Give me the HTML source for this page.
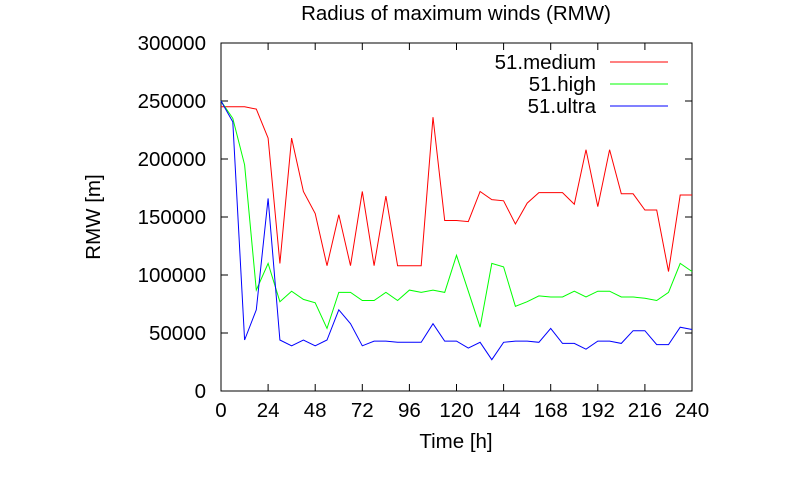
<!DOCTYPE html>
<html><head><meta charset="utf-8"><style>
html,body{margin:0;padding:0;background:#fff;}
svg{display:block;font-family:"Liberation Sans",sans-serif;}
</style></head><body>
<svg id="chart" width="793" height="500" viewBox="0 0 793 500" xmlns="http://www.w3.org/2000/svg">
<rect x="0" y="0" width="793" height="500" fill="#fff"/>
<text x="456" y="20" font-size="20.5" text-anchor="middle">Radius of maximum winds (RMW)</text>
<text x="100" y="217" font-size="20.5" text-anchor="middle" transform="rotate(-90 100 217)">RMW [m]</text>
<text x="456" y="448" font-size="20.5" text-anchor="middle">Time [h]</text>
<g id="axes"></g>
<g id="series"></g>
<g id="legend"></g>
</svg>
<script>
const times = [0,6,12,18,24,30,36,42,48,54,60,66,72,78,84,90,96,102,108,114,120,126,132,138,144,150,156,162,168,174,180,186,192,198,204,210,216,222,228,234,240];
const medium = [245000,245000,245000,243000,218000,110000,218000,172000,153000,108000,152000,108000,172000,108000,168000,108000,108000,108000,236000,147000,147000,146000,172000,165000,164000,144000,162000,171000,171000,171000,161000,208000,159000,208000,170000,170000,156000,156000,103000,169000,169000];
const high = [250000,235000,195000,87000,110000,77000,86000,79000,76000,54000,85000,85000,78000,78000,85000,78000,87000,85000,87000,85000,117000,86000,55000,110000,107000,73000,77000,82000,81000,81000,86000,81000,86000,86000,81000,81000,80000,78000,85000,110000,103000];
const ultra = [250000,232000,44000,70000,166000,44000,39000,44000,39000,44000,70000,58000,39000,43000,43000,42000,42000,42000,58000,43000,43000,37000,42000,27000,42000,43000,43000,42000,54000,41000,41000,36000,43000,43000,41000,52000,52000,40000,40000,55000,53000];
const xTicks = [0,24,48,72,96,120,144,168,192,216,240];
const yTicks = [0,50000,100000,150000,200000,250000,300000];
const seriesNames = ["51.medium","51.high","51.ultra"];

const L=221,R=692,T=43,B=391;
const NS="http://www.w3.org/2000/svg";
function xs(v){return L+(v-0)/(240-0)*(R-L);}
function ys(v){return B-(v-0)/(300000-0)*(B-T);}
function mk(tag,attrs,parent){const e=document.createElementNS(NS,tag);for(const k in attrs)e.setAttribute(k,attrs[k]);parent.appendChild(e);return e;}
const axes=document.getElementById('axes');
const frame=mk('rect',{x:L,y:T,width:R-L,height:B-T,fill:'none',stroke:'#000','stroke-width':1},axes);


xTicks.forEach(t=>{
  const x=xs(t);
  const g=mk('g',{},axes);
  
  
  mk('line',{x1:x,y1:B,x2:x,y2:B-7,stroke:'#000'},g);
  mk('line',{x1:x,y1:T,x2:x,y2:T+7,stroke:'#000'},g);
  const tx=mk('text',{x:x,y:B+26,'font-size':20.5,'text-anchor':'middle'},g);
  tx.textContent=t;
});
yTicks.forEach(t=>{
  const y=ys(t);
  const g=mk('g',{},axes);
  
  
  mk('line',{x1:L,y1:y,x2:L+7,y2:y,stroke:'#000'},g);
  mk('line',{x1:R,y1:y,x2:R-7,y2:y,stroke:'#000'},g);
  const tx=mk('text',{x:206,y:y+7,'font-size':20.5,'text-anchor':'end'},g);
  tx.textContent=t;
});
const colors=['#ff0000','#00ff00','#0000ff'];
const data=[medium,high,ultra];
const sg=document.getElementById('series');
data.forEach((arr,i)=>{
  const pts=arr.map((v,j)=>xs(times[j]).toFixed(1)+','+ys(v).toFixed(1)).join(' ');
  const pl=mk('polyline',{points:pts,fill:'none',stroke:colors[i],'stroke-width':1},sg);
  
  
});
const lg=document.getElementById('legend');
seriesNames.forEach((n,i)=>{
  const y=62+i*22;
  const g=mk('g',{},lg);
  
  
  const tx=mk('text',{x:596,y:y+7,'font-size':20.5,'text-anchor':'end'},g);
  tx.textContent=n;
  mk('line',{x1:610,y1:y,x2:668,y2:y,stroke:colors[i]},g);
});
</script>
</body></html>
